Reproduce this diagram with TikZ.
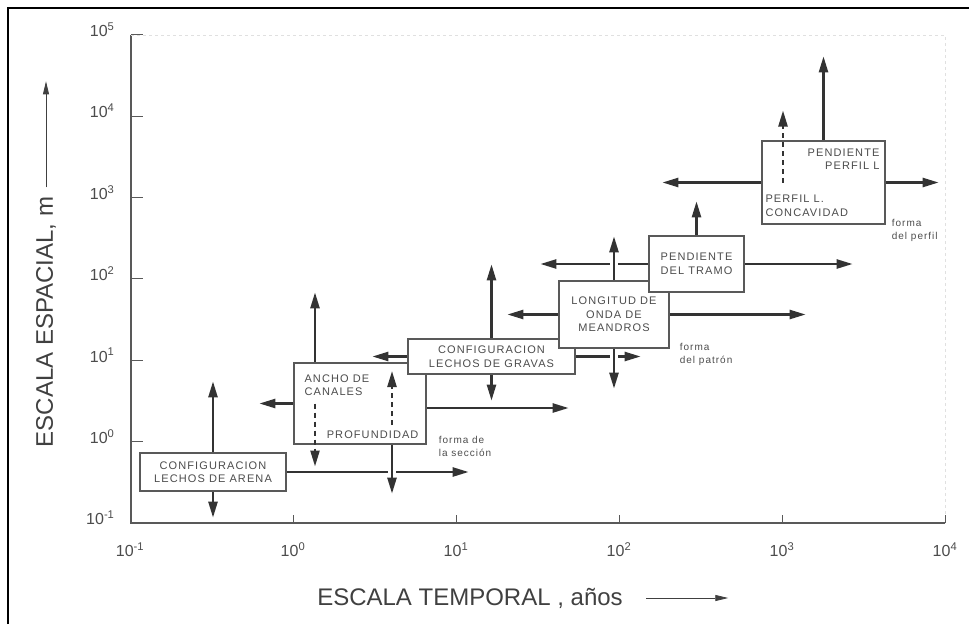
\documentclass[tikz,border=0pt]{standalone}
\usepackage{fontspec}
\setmainfont{Liberation Sans}
\newfontfamily\cajafont[LetterSpace=10]{Liberation Sans}
\usetikzlibrary{arrows.meta,backgrounds}

\begin{document}
\begin{tikzpicture}[x=1pt,y=-1pt,
		caja/.style={draw=black!65, line width=1.3pt, fill=white, inner sep=0pt,
			font=\cajafont\fontsize{11}{13.5}\selectfont, text=black!70, align=center},
		texto/.style={inner sep=0pt, font=\cajafont\fontsize{11}{13.5}\selectfont, text=black!70},
		nota/.style={inner sep=0pt, anchor=north west, align=left, text=black!70,
			font=\cajafont\fontsize{10}{13.5}\selectfont},
		flecha/.style={draw=black!80, line width=2.4pt, -{Triangle[length=16pt,width=9pt]}},
		trazos/.style={flecha, dash pattern=on 5pt off 4pt},
		cruce/.style={preaction={draw=white, line width=8pt}},
		escala/.style={text=black!70, font=\fontsize{16}{16}\selectfont}]
	\useasboundingbox (0,0) rectangle (969,624);
	\draw[line width=1.5pt] (8,624) -- (8,8) -- (969,8);

	% ejes
	\draw[black!65, line width=1.8pt] (131,35) -- (131,523) -- (945,523);
	\draw[black!12, line width=0.8pt, dashed] (131,35) -- (945,35) -- (945,523);
	\foreach \e [count=\i from 0] in {-1,0,1,2,3,4} {
		\node[escala, anchor=north] (tx\i) at (130+163*\i,539) {10\textsuperscript{\e}};
		\draw[black!65, line width=1pt] (130+163*\i,523) -- ++(0,-8);
	}
	\foreach \e [count=\i from 0] in {-1,0,1,2,3,4,5} {
		\node[escala, anchor=east] (ty\i) at (118,518-81.4*\i) {10\textsuperscript{\e}};
		\draw[black!65, line width=1pt] (131,523-81.4*\i) -- ++(12,0);
	}
	\node[rotate=90, text=black!75, font=\fontsize{24}{24}\selectfont] (ejey) at (46,322) {ESCALA ESPACIAL, m};
	\draw[black!75, line width=0.8pt, -{Triangle[length=13pt,width=6pt]}] ([yshift=6pt]ejey.east) -- ++(0,-106);
	\node[text=black!75, font=\fontsize{24}{24}\selectfont] (ejex) at (470,598) {ESCALA TEMPORAL , años};
	\draw[black!75, line width=0.8pt, -{Triangle[length=13pt,width=6pt]}] ([xshift=20pt]ejex.east) -- ++(82,0);

	% cajas
	\node[caja, minimum width=132pt, minimum height=81pt] (ancho) at (360,403.5) {};
	\node[caja, minimum width=146pt, minimum height=38pt] (arena) at (213,472) {CONFIGURACION\\LECHOS DE ARENA};
	\node[caja, minimum width=167pt, minimum height=35pt] (gravas) at (491.5,356.5) {CONFIGURACION\\LECHOS DE GRAVAS};
	\node[caja, minimum width=110pt, minimum height=67pt] (meandros) at (614,314.5) {LONGITUD DE\\ONDA DE\\MEANDROS};
	\node[caja, minimum width=95pt, minimum height=56pt] (tramo) at (696.5,264) {PENDIENTE\\DEL TRAMO};
	\node[caja, minimum width=123pt, minimum height=83pt] (perfil) at (823.5,182.5) {};

	\node[texto, anchor=north west, align=left] (canales) at ([shift={(11,12)}]ancho.north west) {ANCHO DE\\CANALES};
	\node[texto, anchor=south east] (profundidad) at ([shift={(-8,-6)}]ancho.south east) {PROFUNDIDAD};
	\node[texto, anchor=north east, align=right] (pendiente) at ([shift={(-6,8)}]perfil.north east) {PENDIENTE\\PERFIL L};
	\node[texto, anchor=south west, align=left] (concavidad) at ([shift={(4,-8)}]perfil.south west) {PERFIL L.\\CONCAVIDAD};

	\node[nota] (seccion) at ([shift={(12,-9)}]ancho.south east) {forma de\\la sección};
	\node[nota] (patron) at ([shift={(10,-6)}]meandros.south east) {forma\\del patrón};
	\node[nota] (forma) at ([shift={(6,-6)}]perfil.south east) {forma\\del perfil};

	% flechas
	\begin{scope}[on background layer]
		\draw[flecha] (arena.east) -- ++(182,0);
		\draw[flecha] (ancho.west) -- ++(-34,0);
		\draw[flecha] ([yshift=-4.5pt]ancho.east) -- ++(142,0);
		\draw[flecha] (gravas.west) -- ++(-35,0);
		\draw[flecha] (gravas.east) -- ++(65,0);
		\draw[flecha] (meandros.west) -- ++(-51,0);
		\draw[flecha] (meandros.east) -- ++(136,0);
		\draw[flecha] (tramo.west) -- ++(-108,0);
		\draw[flecha] (tramo.east) -- ++(108,0);
		\draw[flecha] (perfil.west) -- ++(-99,0);
		\draw[flecha] (perfil.east) -- ++(53,0);
		% verticales
		\draw[flecha] (arena.north) -- ++(0,-71);
		\draw[flecha] (arena.south) -- ++(0,26);
		\draw[flecha] ([xshift=-45pt]ancho.north) -- ++(0,-70);
		\draw[flecha, cruce] ([xshift=32pt]ancho.south) -- ++(0,49);
		\draw[flecha] (gravas.north) -- ++(0,-74);
		\draw[flecha] (gravas.south) -- ++(0,26);
		\draw[flecha, cruce] (meandros.north) -- ++(0,-44);
		\draw[flecha, cruce] (meandros.south) -- ++(0,40);
		\draw[flecha] (tramo.north) -- ++(0,-34);
		\draw[flecha] (perfil.north) -- ++(0,-84);
	\end{scope}
	\draw[trazos] ([xshift=-45pt]ancho.center) -- ++(0,63);
	\draw[trazos] ([shift={(32,21.5)}]ancho.center) -- ++(0,-54);
	\draw[trazos] ([xshift=-40.5pt]perfil.center) -- ++(0,-72);
\end{tikzpicture}
\end{document}
